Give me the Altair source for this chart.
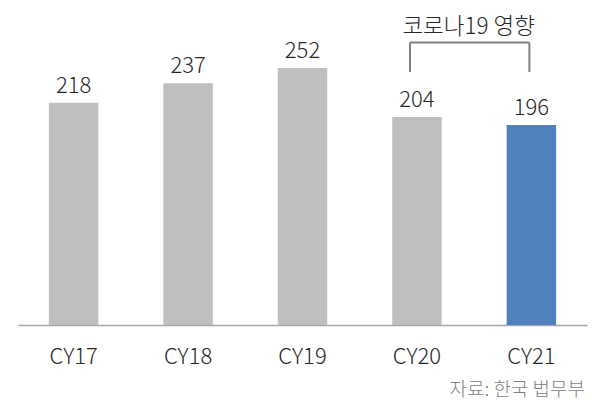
import altair as alt
import pandas as pd

years = ["CY17", "CY18", "CY19", "CY20", "CY21"]
values = [218, 237, 252, 204, 196]
highlight = [False, False, False, False, True]
annotation_text = "코로나19 영향"
source_text = "자료: 한국 법무부"

FONT = "Noto Sans CJK KR"
W = 300
df = pd.DataFrame({"year": years, "value": values, "hl": highlight})

xscale = alt.Scale(domain=years, paddingInner=0.568, paddingOuter=0.27)
yscale = alt.Scale(domain=[0, 300])

base = alt.Chart(df)

bars = base.mark_bar().encode(
    x=alt.X("year:N", scale=xscale, sort=years,
            axis=alt.Axis(title=None, ticks=False, labelAngle=0, labelFont=FONT,
                          labelFontSize=22, labelFontWeight=W, labelColor="#262626",
                          labelBaseline="alphabetic", labelPadding=38,
                          domainColor="#A6A6A6", domainWidth=1.5, grid=False)),
    y=alt.Y("value:Q", scale=yscale, axis=None),
    color=alt.Color("hl:N", scale=alt.Scale(domain=[False, True], range=["#BFBFBF", "#4F81BD"]), legend=None),
)

labels = base.mark_text(font=FONT, fontSize=22, fontWeight=W, color="#262626", baseline="alphabetic", dy=-10).encode(
    x=alt.X("year:N", scale=xscale, sort=years),
    y=alt.Y("value:Q", scale=yscale),
    text=alt.Text("value:Q"),
)

# bracket annotation over CY20-CY21
br = pd.DataFrame({"a": ["CY20"], "b": ["CY21"], "top": [277], "bot": [248], "ty": [285],
                   "t": [annotation_text], "src": [source_text]})
bc = alt.Chart(br)
top_rule = bc.mark_rule(color="#7F7F7F", strokeWidth=2).encode(
    x=alt.X("a:N", scale=xscale, bandPosition=0.36),
    x2=alt.X2("b:N", bandPosition=0.46),
    y=alt.Y("top:Q", scale=yscale),
)
left_rule = bc.mark_rule(color="#7F7F7F", strokeWidth=2).encode(
    x=alt.X("a:N", scale=xscale, bandPosition=0.36),
    y=alt.Y("top:Q", scale=yscale), y2="bot:Q",
)
right_rule = bc.mark_rule(color="#7F7F7F", strokeWidth=2).encode(
    x=alt.X("b:N", scale=xscale, bandPosition=0.46),
    y=alt.Y("top:Q", scale=yscale), y2="bot:Q",
)
ann = bc.mark_text(font=FONT, fontSize=22.5, fontWeight=W, color="#262626", baseline="alphabetic", dx=27).encode(
    x=alt.X("a:N", scale=xscale, bandPosition=1),
    y=alt.Y("ty:Q", scale=yscale),
    text="t:N",
)
src = bc.mark_text(font=FONT, fontSize=19, fontWeight=W, color="#7F7F7F", align="right", baseline="alphabetic").encode(
    x=alt.value(567),
    y=alt.value(377),
    text="src:N",
)

chart = alt.layer(bars, labels, top_rule, left_rule, right_rule, ann, src).properties(
    width=569, height=306,
    autosize=alt.AutoSizeParams(type="none"),
    padding={"left": 10, "top": 11, "right": 3, "bottom": 76},
).configure_view(stroke=None)

chart.save("out.html", embed_options={"renderer": "svg", "actions": False})
